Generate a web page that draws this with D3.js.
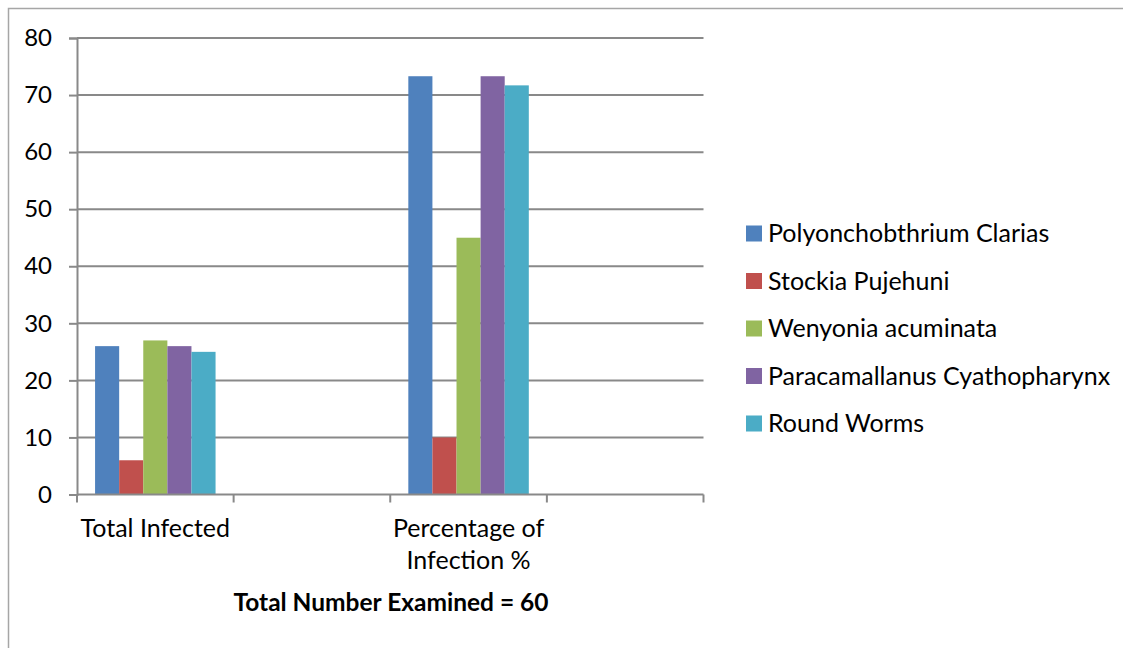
<!DOCTYPE html>
<html>
<head>
<meta charset="utf-8">
<script src="https://cdn.jsdelivr.net/npm/d3@7"></script>
<style>
  html, body { margin: 0; padding: 0; background: #fff; }
  svg { display: block; }
  text { font-family: Lato, "Open Sans", sans-serif; fill: #000; }
</style>
</head>
<body>
<svg id="chart" width="1123" height="648"></svg>
<script>
// ---- data ----
const categories = ["Total Infected", "", "Percentage of Infection %", ""];
const seriesNames = ["Polyonchobthrium Clarias", "Stockia Pujehuni", "Wenyonia acuminata", "Paracamallanus Cyathopharynx", "Round Worms"];
const seriesColors = ["#4F81BD", "#C0504D", "#9BBB59", "#8064A2", "#4BACC6"];
const polyonchobthrium = [26, null, 73.3, null];
const stockia = [6, null, 10, null];
const wenyonia = [27, null, 45, null];
const paracamallanus = [26, null, 73.3, null];
const roundWorms = [25, null, 71.7, null];
const seriesValues = [polyonchobthrium, stockia, wenyonia, paracamallanus, roundWorms];
const yTicks = [0, 10, 20, 30, 40, 50, 60, 70, 80];
const xTitle = "Total Number Examined = 60";

// ---- layout ----
const svg = d3.select("#chart");
const plot = { left: 77, right: 703.5, top: 38, bottom: 494.5 };
const fontSize = 25;
const gridColor = "#898989";

// outer border
svg.append("rect").attr("x", 8.5).attr("y", 8.5).attr("width", 1130).attr("height", 660)
  .attr("fill", "none").attr("stroke", "#a6a6a6").attr("stroke-width", 1.5);

const y = d3.scaleLinear().domain([0, 80]).range([plot.bottom, plot.top]);
const x0 = d3.scaleBand().domain(d3.range(categories.length)).range([plot.left, plot.right]).padding(0);
const barW = x0.bandwidth() / 6.5;
const x1 = d3.scaleBand().domain(d3.range(seriesNames.length)).range([0.75 * barW, x0.bandwidth() - 0.75 * barW]).padding(0);

// gridlines
svg.append("g").selectAll("line").data(yTicks.filter(d => d !== 0)).join("line")
  .attr("x1", plot.left).attr("x2", plot.right)
  .attr("y1", d => y(d)).attr("y2", d => y(d))
  .attr("stroke", gridColor).attr("stroke-width", 2);

// y axis
const yAxis = svg.append("g").attr("transform", `translate(${plot.left},0)`)
  .call(d3.axisLeft(y).tickValues(yTicks).tickSize(8).tickPadding(17));
yAxis.select(".domain").attr("stroke", gridColor).attr("stroke-width", 2);
yAxis.selectAll(".tick line").attr("stroke", gridColor).attr("stroke-width", 2);
yAxis.selectAll(".tick text").attr("font-size", 24).attr("font-family", "Lato, sans-serif").attr("fill", "#000");

// bars
const barsG = svg.append("g");
seriesValues.forEach((vals, si) => {
  barsG.append("g").selectAll("rect")
    .data(vals.map((v, ci) => ({ v, ci })).filter(d => d.v !== null))
    .join("rect")
    .attr("x", d => x0(d.ci) + x1(si))
    .attr("width", x1.bandwidth())
    .attr("y", d => y(d.v))
    .attr("height", d => y(0) - y(d.v))
    .attr("fill", seriesColors[si]);
});

// x axis
const xAxisG = svg.append("g").attr("transform", `translate(0,${plot.bottom})`);
xAxisG.append("line").attr("x1", plot.left).attr("x2", plot.right).attr("y1", 0).attr("y2", 0)
  .attr("stroke", gridColor).attr("stroke-width", 2);
const tickPos = d3.range(categories.length + 1).map(i => i < categories.length ? x0(i) : plot.right);
xAxisG.selectAll("line.tk").data(tickPos).join("line").attr("class", "tk")
  .attr("x1", d => d).attr("x2", d => d).attr("y1", 0).attr("y2", 8)
  .attr("stroke", gridColor).attr("stroke-width", 2);

// category labels with wrapping
categories.forEach((c, i) => {
  if (!c) return;
  const cx = x0(i) + x0.bandwidth() / 2;
  const t = svg.append("text").attr("x", cx).attr("y", 537).attr("text-anchor", "middle").attr("font-size", fontSize);
  const words = c.split(" ");
  let line = [];
  let tspan = t.append("tspan").attr("x", cx).attr("dy", 0);
  words.forEach(w => {
    line.push(w);
    tspan.text(line.join(" "));
    if (tspan.node().getComputedTextLength() > x0.bandwidth() && line.length > 1) {
      line.pop();
      tspan.text(line.join(" "));
      line = [w];
      tspan = t.append("tspan").attr("x", cx).attr("dy", 32).text(w);
    }
  });
});

// x title
svg.append("text").attr("x", 391).attr("y", 611).attr("text-anchor", "middle")
  .attr("font-size", 24.5).attr("font-weight", "bold").text(xTitle);

// legend
const legend = svg.append("g");
seriesNames.forEach((name, i) => {
  const cy = 233.5 + i * 47.5;
  legend.append("rect").attr("x", 746).attr("y", cy - 8).attr("width", 16).attr("height", 16).attr("fill", seriesColors[i]);
  legend.append("text").attr("x", 768).attr("y", cy).attr("dy", "0.35em").attr("font-size", fontSize).text(name);
});
</script>
</body>
</html>
